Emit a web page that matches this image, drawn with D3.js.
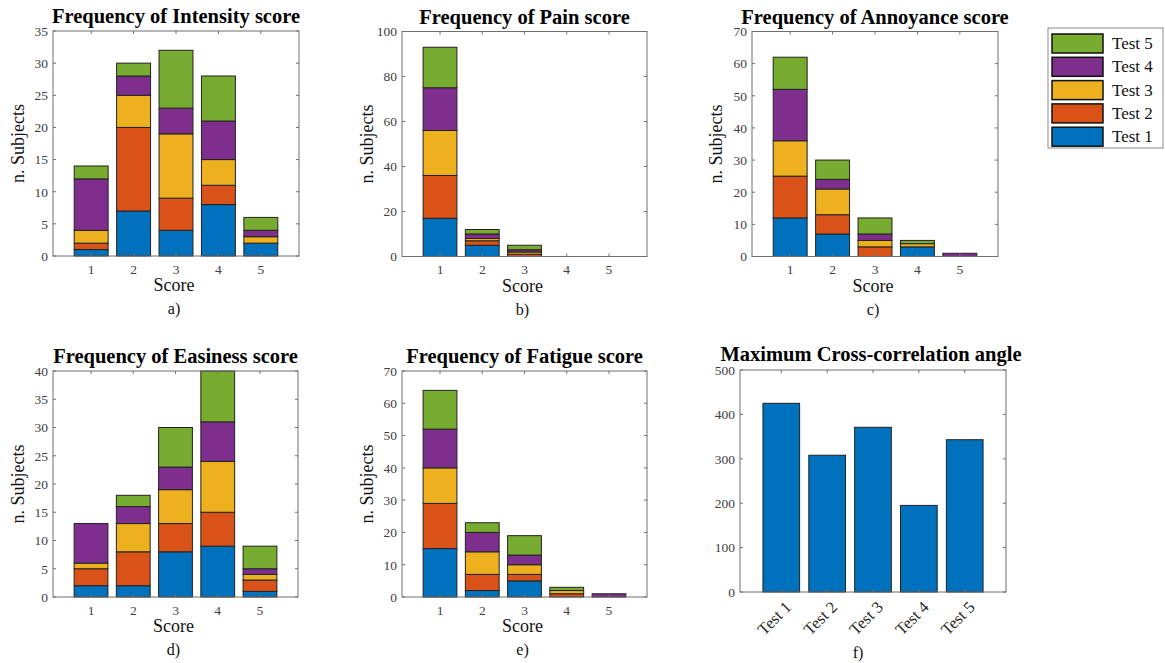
<!DOCTYPE html>
<html>
<head>
<meta charset="utf-8">
<script src="https://cdn.jsdelivr.net/npm/d3@7"></script>
<style>
  html, body { margin: 0; padding: 0; background: #fff; }
  svg { display: block; font-family: "Liberation Serif", "Times New Roman", serif; }
</style>
</head>
<body>
<svg id="fig" width="1165" height="663"></svg>
<script>
// Score categories and test names
const scores = [1, 2, 3, 4, 5];
const tests = ["Test 1", "Test 2", "Test 3", "Test 4", "Test 5"];
const testColors = ["#0072BD", "#D95319", "#EDB120", "#7E2F8E", "#77AC30"];

// Subject counts per test (rows) and score (columns)
const intensity = [
  [1, 7, 4, 8, 2],
  [1, 13, 5, 3, 0],
  [2, 5, 10, 4, 1],
  [8, 3, 4, 6, 1],
  [2, 2, 9, 7, 2]
];
const pain = [
  [17, 5, 0, 0, 0],
  [19, 2, 1, 0, 0],
  [20, 1, 1, 0, 0],
  [19, 2, 1, 0, 0],
  [18, 2, 2, 0, 0]
];
const annoyance = [
  [12, 7, 0, 3, 0],
  [13, 6, 3, 0, 0],
  [11, 8, 2, 1, 0],
  [16, 3, 2, 0, 1],
  [10, 6, 5, 1, 0]
];
const easiness = [
  [2, 2, 8, 9, 1],
  [3, 6, 5, 6, 2],
  [1, 5, 6, 9, 1],
  [7, 3, 4, 7, 1],
  [0, 2, 7, 9, 4]
];
const fatigue = [
  [15, 2, 5, 0, 0],
  [14, 5, 2, 1, 0],
  [11, 7, 3, 1, 0],
  [12, 6, 3, 0, 1],
  [12, 3, 6, 1, 0]
];
// Maximum cross-correlation angle per test
const maxAngle = [425, 308, 371, 195, 343];

// Y tick values per panel
const ticksIntensity = [0, 5, 10, 15, 20, 25, 30, 35];
const ticksPain = [0, 20, 40, 60, 80, 100];
const ticksAnnoyance = [0, 10, 20, 30, 40, 50, 60, 70];
const ticksEasiness = [0, 5, 10, 15, 20, 25, 30, 35, 40];
const ticksFatigue = [0, 10, 20, 30, 40, 50, 60, 70];
const ticksAngle = [0, 100, 200, 300, 400, 500];

const svg = d3.select("#fig");
const axisColor = "#6e6e6e";
const tickTextColor = "#404040";
const serif = "Liberation Serif";
const barWidth = 0.8;

// Draws the axes frame (box with inward ticks on all four sides)
function drawFrame(g, x, y, xTicks, yTicks, x0, x1, y0, y1) {
  const tl = 3;
  g.append("rect")
    .attr("x", x0).attr("y", y1)
    .attr("width", x1 - x0).attr("height", y0 - y1)
    .attr("fill", "none").attr("stroke", axisColor).attr("stroke-width", 1);
  yTicks.forEach(t => {
    const yy = y(t);
    g.append("line").attr("x1", x0).attr("x2", x0 + tl).attr("y1", yy).attr("y2", yy)
      .attr("stroke", axisColor);
    g.append("line").attr("x1", x1).attr("x2", x1 - tl).attr("y1", yy).attr("y2", yy)
      .attr("stroke", axisColor);
  });
  xTicks.forEach(t => {
    const xx = x(t);
    g.append("line").attr("x1", xx).attr("x2", xx).attr("y1", y0).attr("y2", y0 - tl)
      .attr("stroke", axisColor);
    g.append("line").attr("x1", xx).attr("x2", xx).attr("y1", y1).attr("y2", y1 + tl)
      .attr("stroke", axisColor);
  });
  const yAxis = d3.axisLeft(y).tickValues(yTicks).tickSize(0).tickPadding(5);
  const ya = g.append("g").attr("transform", `translate(${x0},0)`).call(yAxis)
    .attr("font-family", serif);
  ya.select(".domain").remove();
  ya.selectAll("text").attr("fill", tickTextColor)
    .style("font-family", serif).style("font-size", "13.5px");
}

function drawStackedPanel(box, counts, yTicks, title, tag, ylabelX) {
  const { x0, x1, y0, y1 } = box;
  const g = svg.append("g");
  const x = d3.scaleLinear().domain([0.1, 5.9]).range([x0, x1]);
  const y = d3.scaleLinear().domain([yTicks[0], yTicks[yTicks.length - 1]]).range([y0, y1]);

  // Stack rows: one record per score, one key per test
  const rows = scores.map((s, j) => {
    const r = { score: s };
    tests.forEach((t, i) => { r[t] = counts[i][j]; });
    return r;
  });
  const stack = d3.stack().keys(tests)(rows);
  const bw = x(1 + barWidth / 2) - x(1 - barWidth / 2);

  stack.forEach((layer, i) => {
    g.selectAll(null)
      .data(layer.filter(d => d[1] - d[0] > 0))
      .join("rect")
      .attr("x", d => x(d.data.score) - bw / 2)
      .attr("width", bw)
      .attr("y", d => y(d[1]))
      .attr("height", d => y(d[0]) - y(d[1]))
      .attr("fill", testColors[i])
      .attr("stroke", "#222")
      .attr("stroke-width", 1);
  });

  drawFrame(g, x, y, scores, yTicks, x0, x1, y0, y1);

  // X tick labels
  g.selectAll(null).data(scores).join("text")
    .attr("x", d => x(d)).attr("y", y0 + 17.5)
    .attr("text-anchor", "middle")
    .attr("fill", tickTextColor).style("font-size", "13.5px")
    .text(d => d);

  const cx = (x0 + x1) / 2;
  g.append("text").attr("x", cx - 2).attr("y", y0 + 35)
    .attr("text-anchor", "middle").style("font-size", "18px").attr("fill", "#111")
    .text("Score");
  g.append("text").attr("x", ylabelX).attr("y", (y0 + y1) / 2)
    .attr("transform", `rotate(-90, ${ylabelX}, ${(y0 + y1) / 2})`)
    .attr("text-anchor", "middle").attr("dy", "0.35em")
    .style("font-size", "18px").attr("fill", "#111")
    .text("n. Subjects");
  g.append("text").attr("x", cx).attr("y", y1 - 8)
    .attr("text-anchor", "middle").style("font-size", "20.5px").style("font-weight", "bold")
    .attr("fill", "#000").text(title);
  g.append("text").attr("x", cx - 2).attr("y", y0 + 58)
    .attr("text-anchor", "middle").style("font-size", "16px").attr("fill", "#111")
    .text(tag);
}

drawStackedPanel({ x0: 53, x1: 299, y0: 256, y1: 31 }, intensity, ticksIntensity,
  "Frequency of Intensity score", "a)", 18);
drawStackedPanel({ x0: 402, x1: 647, y0: 256.5, y1: 31.5 }, pain, ticksPain,
  "Frequency of Pain score", "b)", 367);
drawStackedPanel({ x0: 752, x1: 998, y0: 256.5, y1: 31.5 }, annoyance, ticksAnnoyance,
  "Frequency of Annoyance score", "c)", 716);
drawStackedPanel({ x0: 53, x1: 298, y0: 597, y1: 371 }, easiness, ticksEasiness,
  "Frequency of Easiness score", "d)", 18);
drawStackedPanel({ x0: 402, x1: 647, y0: 597, y1: 371 }, fatigue, ticksFatigue,
  "Frequency of Fatigue score", "e)", 367);

// Panel f: maximum cross-correlation angle
(function () {
  const x0 = 740, x1 = 1006, y0 = 592, y1 = 370;
  const g = svg.append("g");
  const idx = tests.map((t, i) => i + 1);
  const x = d3.scaleLinear().domain([0.1, 5.9]).range([x0, x1]);
  const y = d3.scaleLinear().domain([0, 500]).range([y0, y1]);
  const bw = x(1 + barWidth / 2) - x(1 - barWidth / 2);
  g.selectAll(null).data(maxAngle).join("rect")
    .attr("x", (d, i) => x(i + 1) - bw / 2)
    .attr("width", bw)
    .attr("y", d => y(d))
    .attr("height", d => y0 - y(d))
    .attr("fill", testColors[0])
    .attr("stroke", "#222").attr("stroke-width", 1);
  drawFrame(g, x, y, idx, ticksAngle, x0, x1, y0, y1);
  g.selectAll(null).data(tests).join("text")
    .attr("transform", (d, i) => `translate(${x(i + 1) + 7},${y0 + 12}) rotate(-45)`)
    .attr("text-anchor", "end").attr("dy", "0.35em")
    .attr("fill", "#262626").style("font-size", "16.5px")
    .text(d => d);
  g.append("text").attr("x", (x0 + x1) / 2 - 2).attr("y", y1 - 9)
    .attr("text-anchor", "middle").style("font-size", "20.5px").style("font-weight", "bold")
    .attr("fill", "#000").text("Maximum Cross-correlation angle");
  g.append("text").attr("x", 858).attr("y", 658)
    .attr("text-anchor", "middle").style("font-size", "16px").attr("fill", "#111")
    .text("f)");
})();

// Legend (Test 5 at top)
(function () {
  const lg = svg.append("g");
  lg.append("rect").attr("x", 1048).attr("y", 28).attr("width", 115).attr("height", 120)
    .attr("fill", "#fff").attr("stroke", "#8a8a8a").attr("stroke-width", 1);
  const order = d3.range(tests.length).reverse();
  order.forEach((i, k) => {
    const yy = 34 + k * 23.3;
    lg.append("rect").attr("x", 1052).attr("y", yy).attr("width", 51).attr("height", 19)
      .attr("fill", testColors[i]).attr("stroke", "#111").attr("stroke-width", 1.5);
    lg.append("text").attr("x", 1112).attr("y", yy + 15)
      .style("font-size", "17px").attr("fill", "#111").text(tests[i]);
  });
})();
</script>
</body>
</html>
